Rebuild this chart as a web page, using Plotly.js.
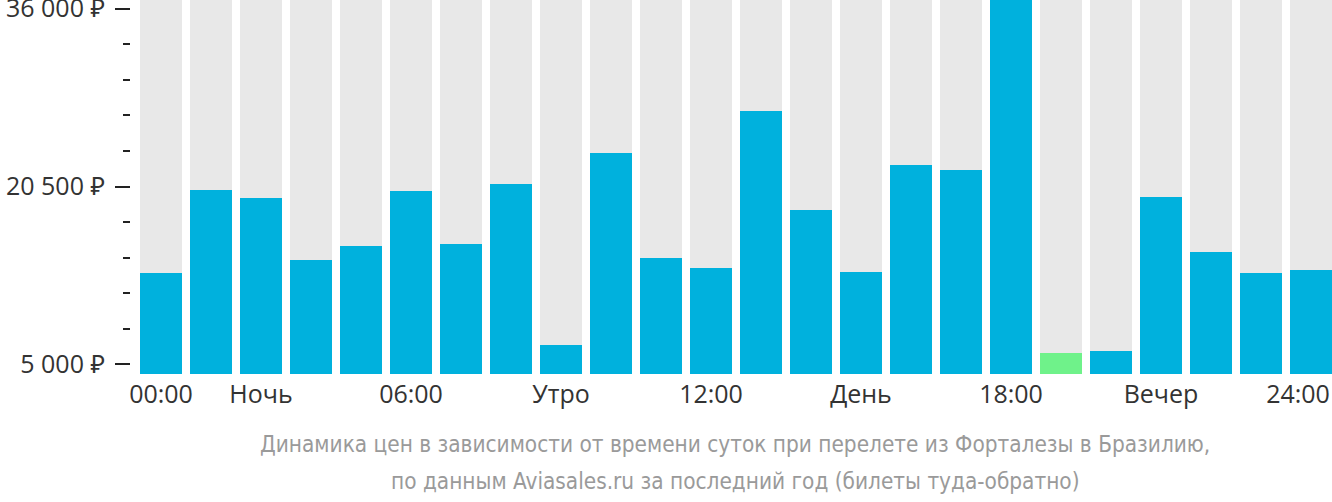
<!DOCTYPE html>
<html>
<head>
<meta charset="utf-8">
<script src="https://cdn.plot.ly/plotly-3.0.1.min.js"></script>
<style>html,body{margin:0;padding:0;background:#fff;}#chart{width:1332px;height:502px;}</style>
</head>
<body>
<div id="chart"></div>
<script>
// Data
const hours = ["00:00","01:00","02:00","03:00","04:00","05:00","06:00","07:00","08:00","09:00","10:00","11:00",
               "12:00","13:00","14:00","15:00","16:00","17:00","18:00","19:00","20:00","21:00","22:00","23:00"];
const prices = [12960, 20190, 19500, 14090, 15310, 20110, 15490, 20720, 6680, 23420, 14270, 13400,
                27080, 18450, 13050, 22370, 21940, 36800, 5985, 6160, 19580, 14790, 12960, 13220];
const tickPositions = [0, 2, 5, 8, 11, 14, 17, 20, 22.74];
const tickLabels = ["00:00", "Ночь", "06:00", "Утро", "12:00", "День", "18:00", "Вечер", "24:00"];
const yTickValues = [5000, 20500, 36000];
const yTickLabels = ["5 000 ₽", "20 500 ₽", "36 000 ₽"];
const titleLines = ["Динамика цен в зависимости от времени суток при перелете из Форталезы в Бразилию,",
                    "по данным Aviasales.ru за последний год (билеты туда-обратно)"];

const yMin = 4154, yMax = 36759;
const xIdx = hours.map((_, i) => i);
const minPrice = Math.min(...prices);
const colors = prices.map(p => p === minPrice ? "#6ff28a" : "#00b1dd");

const bg = {
  type: "bar", x: xIdx, y: hours.map(() => yMax), marker: {color: "#e8e8e8"},
  hoverinfo: "skip", showlegend: false, textposition: "none"
};
const main = {
  type: "bar", x: xIdx, y: prices, marker: {color: colors},
  customdata: hours, hovertemplate: "%{customdata}: %{y} ₽<extra></extra>", showlegend: false,
  textposition: "none"
};

const layout = {
  width: 1332, height: 502,
  margin: {l: 131, r: 0, t: 0, b: 128},
  paper_bgcolor: "#fff", plot_bgcolor: "#fff",
  barmode: "overlay", bargap: 0.16,
  font: {family: "Open Sans, Noto Sans, sans-serif", color: "#333"},
  xaxis: {
    range: [-0.6, 23.42], tickmode: "array", tickvals: tickPositions, ticktext: tickLabels,
    showgrid: false, zeroline: false, showline: false, ticks: "",
    tickfont: {size: 25, color: "#333"}, ticklabelstandoff: 3, ticklabeloverflow: "allow",
    fixedrange: true
  },
  yaxis: {
    range: [yMin, yMax], tickmode: "array", tickvals: yTickValues, ticktext: yTickLabels,
    showgrid: false, zeroline: false, showline: false,
    ticks: "outside", ticklen: 15, tickwidth: 2, tickcolor: "#222",
    tickfont: {size: 25, color: "#333"}, ticklabelstandoff: 5, ticklabeloverflow: "allow",
    minor: {tickmode: "linear", tick0: 5000, dtick: 3100, ticks: "outside", ticklen: 7, tickwidth: 2, tickcolor: "#222", showgrid: false},
    fixedrange: true
  },
  annotations: titleLines.map((t, i) => ({
    text: t, xref: "paper", yref: "paper", x: (735 - 131) / 1201, y: -(70 + i * 37) / 374,
    xanchor: "center", yanchor: "middle", showarrow: false,
    font: {family: "DejaVu Sans Condensed, Roboto, sans-serif", size: 22.4, color: "#9a9a9a"}
  }))
};

Plotly.newPlot("chart", [bg, main], layout, {displayModeBar: false, staticPlot: true});
</script>
</body>
</html>
